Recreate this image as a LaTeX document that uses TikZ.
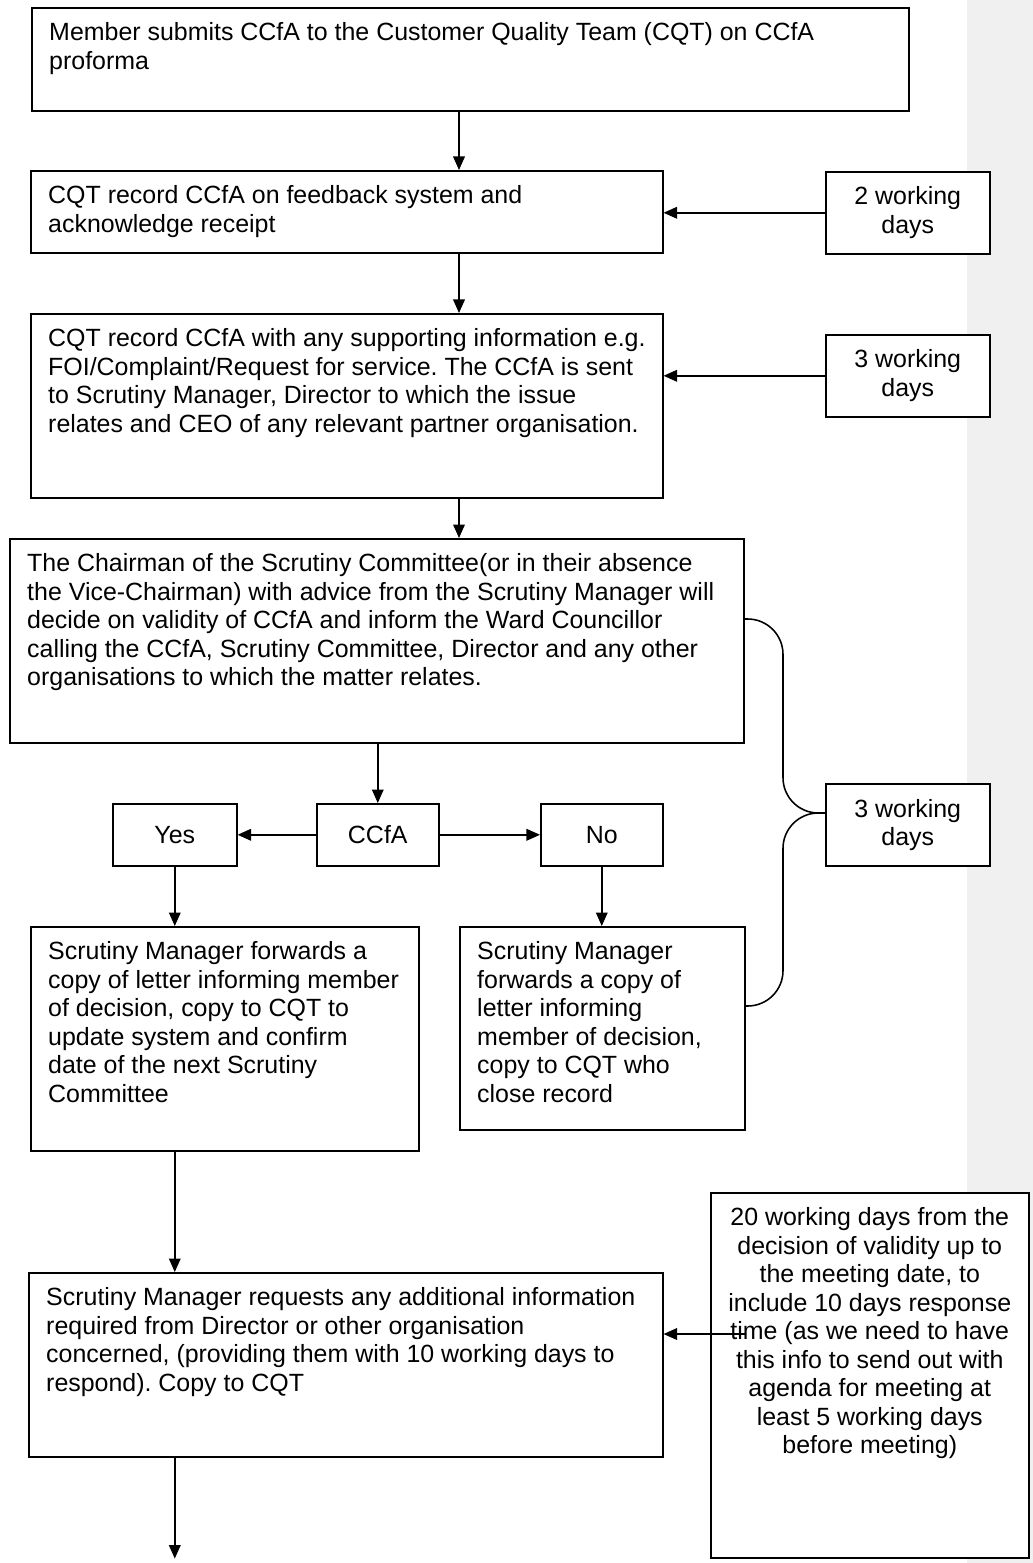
\documentclass[tikz,border=0pt]{standalone}
\usepackage{fontspec}
\setmainfont{Liberation Sans}
\usetikzlibrary{arrows.meta,calc}
\frenchspacing

\newlength\px
\setlength\px{0.4812pt}
\definecolor{margingrey}{RGB}{240,240,240}

% box contents: width, height (in px), text
\newcommand\leftbox[3]{\parbox[c][#2\px][t]{#1\px}{\raggedright\leftskip=8.4pt\rule{0pt}{15.9pt}#3}}
\newcommand\topbox[3]{\parbox[c][#2\px][t]{#1\px}{\centering\rule{0pt}{15.9pt}#3}}
\newcommand\midbox[3]{\parbox[c][#2\px][c]{#1\px}{\centering #3}}

\tikzset{
  stepbox/.style={draw, fill=white, line width=0.75pt, inner sep=0pt, anchor=north west,
    font=\fontsize{12}{13.7}\selectfont},
  arr/.style={line width=0.75pt, -{Triangle[length=6.5pt,width=5.6pt]}},
  brace/.style={line width=0.75pt, rounded corners=17pt}
}

\begin{document}
\begin{tikzpicture}[x=0.4812pt, y=-0.4812pt]
        % Page and comment margin
        \fill[white] (0,0) rectangle (1033,1563);
        \fill[margingrey] (967,0) rectangle (1033,1563);
        \useasboundingbox (0,0) rectangle (1033,1563);

        % Draw the main steps
        \node[stepbox] (b1) at (31,7) {\leftbox{877}{103}{Member submits CCfA to the Customer Quality Team (CQT) on CCfA\\proforma}};
        \node[stepbox] (b2) at (30,170) {\leftbox{632}{82}{CQT record CCfA on feedback system and\\acknowledge receipt}};
        \node[stepbox] (b3) at (30,313) {\leftbox{632}{184}{CQT record CCfA with any supporting information e.g.\\FOI/Complaint/Request for service. The CCfA is sent\\to Scrutiny Manager, Director to which the issue\\relates and CEO of any relevant partner organisation.}};
        \node[stepbox] (b4) at (9,538) {\leftbox{734}{204}{The Chairman of the Scrutiny Committee(or in their absence\\the Vice-Chairman) with advice from the Scrutiny Manager will\\decide on validity of CCfA and inform the Ward Councillor\\calling the CCfA, Scrutiny Committee, Director and any other\\organisations to which the matter relates.}};

        % Draw the decision
        \node[stepbox] (yes) at (112,803) {\midbox{124}{62}{Yes}};
        \node[stepbox] (ccfa) at (316,803) {\midbox{122}{62}{CCfA}};
        \node[stepbox] (no) at (540,803) {\midbox{122}{62}{No}};

        \node[stepbox] (b5) at (30,926) {\leftbox{388}{224}{Scrutiny Manager forwards a\\copy of letter informing member\\of decision, copy to CQT to\\update system and confirm\\date of the next Scrutiny\\Committee}};
        \node[stepbox] (b6) at (459,926) {\leftbox{285}{203}{Scrutiny Manager\\forwards a copy of\\letter informing\\member of decision,\\copy to CQT who\\close record}};
        \node[stepbox] (b8) at (28,1272) {\leftbox{634}{184}{Scrutiny Manager requests any additional information\\required from Director or other organisation\\concerned, (providing them with 10 working days to\\respond). Copy to CQT}};

        % Draw the time limits
        \node[stepbox] (d2) at (825,171) {\midbox{164}{82}{2 working\\days}};
        \node[stepbox] (d3) at (825,334) {\midbox{164}{82}{3 working\\days}};
        \node[stepbox] (d3b) at (825,783) {\midbox{164}{82}{3 working\\days}};
        \node[stepbox] (b7) at (710,1192) {\topbox{318}{365}{20 working days from the\\decision of validity up to\\the meeting date, to\\include 10 days response\\time (as we need to have\\this info to send out with\\agenda for meeting at\\least 5 working days\\before meeting)}};

        % Draw the arrows
        \coordinate (spine) at (459,0);
        \draw[arr] (b1.south -| spine) -- (b2.north -| spine);
        \draw[arr] (b2.south -| spine) -- (b3.north -| spine);
        \draw[arr] (b3.south -| spine) -- (b4.north -| spine);
        \draw[arr] (d2.west) -- (d2.west -| b2.east);
        \draw[arr] (d3.west) -- (d3.west -| b3.east);
        \draw[arr] (b4.south -| ccfa) -- (ccfa.north);
        \draw[arr] (ccfa.west) -- (yes.east);
        \draw[arr] (ccfa.east) -- (no.west);
        \draw[arr] (yes.south) -- (yes.south |- b5.north);
        \draw[arr] (no.south) -- (no.south |- b6.north);
        \draw[arr] (b5.south -| yes) -- (b8.north -| yes);
        \draw[arr] (b8.south -| yes) -- (yes |- b7.south);
        \coordinate (t7) at ($(b7.north west)+(35,142)$);
        \draw[arr] (t7) -- (t7 -| b8.east);

        % Draw the brace to the 3 working days
        \coordinate (bx) at (783,0);
        \coordinate (tip) at ($(d3b.north west)+(0,30)$);
        \coordinate (brtop) at ($(b4.north east)+(0,81)$);
        \coordinate (brbot) at ($(b6.north east)+(0,80)$);
        \draw[brace] (brtop) -| (bx |- tip) -- (tip);
        \draw[brace] (tip) -- (bx |- tip) |- (brbot);

    \end{tikzpicture}
\end{document}
